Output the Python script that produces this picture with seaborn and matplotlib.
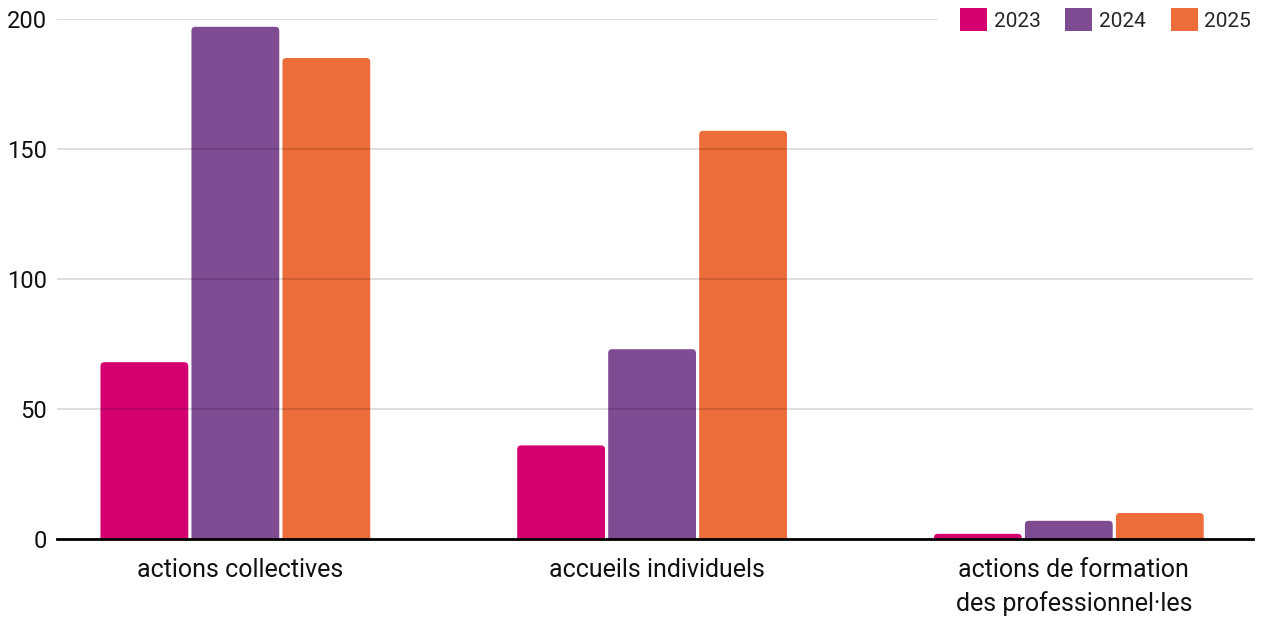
import numpy as np
import pandas as pd
import matplotlib
matplotlib.use('Agg')
import matplotlib.pyplot as plt
import matplotlib.transforms as mtransforms
import seaborn as sns
from matplotlib.patches import FancyBboxPatch, Patch

categories = ['actions collectives', 'accueils individuels',
              'actions de formation\ndes professionnel·les']
years = ['2023', '2024', '2025']
values_2023 = [68, 36, 2]
values_2024 = [197, 73, 7]
values_2025 = [185, 157, 10]
colors = {'2023': '#d4006f', '2024': '#7f4b93', '2025': '#ec6c3a'}

df = pd.DataFrame({
    'categorie': categories * 3,
    'annee': [y for y in years for _ in categories],
    'valeur': values_2023 + values_2024 + values_2025,
})

sns.set_style('white')
plt.rcParams['font.family'] = ['Roboto', 'DejaVu Sans']

fig = plt.figure(figsize=(12.61, 6.18), dpi=100)
ax = fig.add_axes([57 / 1261, 79 / 618, (1253 - 57) / 1261, 520 / 618])

sns.barplot(data=df, x='categorie', y='valeur', hue='annee', order=categories,
            hue_order=years, palette=colors, width=0.655, gap=0.035,
            saturation=1, legend=False, ax=ax)

# rounded tops
bars = list(ax.patches)
for p in bars:
    x, w, h = p.get_x(), p.get_width(), p.get_height()
    fc = p.get_facecolor()
    p.remove()
    fb = FancyBboxPatch((x, -4), w, h + 4,
                        boxstyle='round,pad=0,rounding_size=0.0095',
                        mutation_aspect=160, facecolor=fc, edgecolor='none',
                        zorder=1)
    ax.add_patch(fb)

ax.set_xlim(-0.428, 2.442)
ax.set_ylim(0, 200)
ax.set_yticks([0, 50, 100, 150, 200])
ax.yaxis.grid(True, color='black', alpha=0.13, lw=1.4)
ax.set_axisbelow(False)
for s in ['top', 'right', 'left']:
    ax.spines[s].set_visible(False)
ax.spines['bottom'].set_color('black')
ax.spines['bottom'].set_linewidth(2)
ax.spines['bottom'].set_zorder(3)
ax.tick_params(axis='y', length=0, pad=7, labelsize=17, labelcolor='#111111')
ax.tick_params(axis='x', length=0, pad=14, labelsize=18, labelcolor='#111111')
shift = mtransforms.ScaledTranslation(5 / 100, 0, fig.dpi_scale_trans)
for lbl in ax.get_xticklabels():
    lbl.set_linespacing(1.45)
    lbl.set_transform(lbl.get_transform() + shift)
ax.set_xlabel('')
ax.set_ylabel('')

handles = [Patch(facecolor=colors[y], edgecolor='none', label=y) for y in years]
leg = fig.legend(handles=handles, loc='upper right', ncol=3,
                 bbox_to_anchor=(1283 / 1261, 1 + 24 / 618), fontsize=15,
                 handlelength=1.3, handleheight=1.3, handletextpad=0.3,
                 columnspacing=1.2, frameon=True, borderpad=1.05,
                 fancybox=False)
leg.get_frame().set_facecolor('white')
leg.get_frame().set_edgecolor('none')
leg.get_frame().set_alpha(1)

fig.savefig('out.png', dpi=100)
